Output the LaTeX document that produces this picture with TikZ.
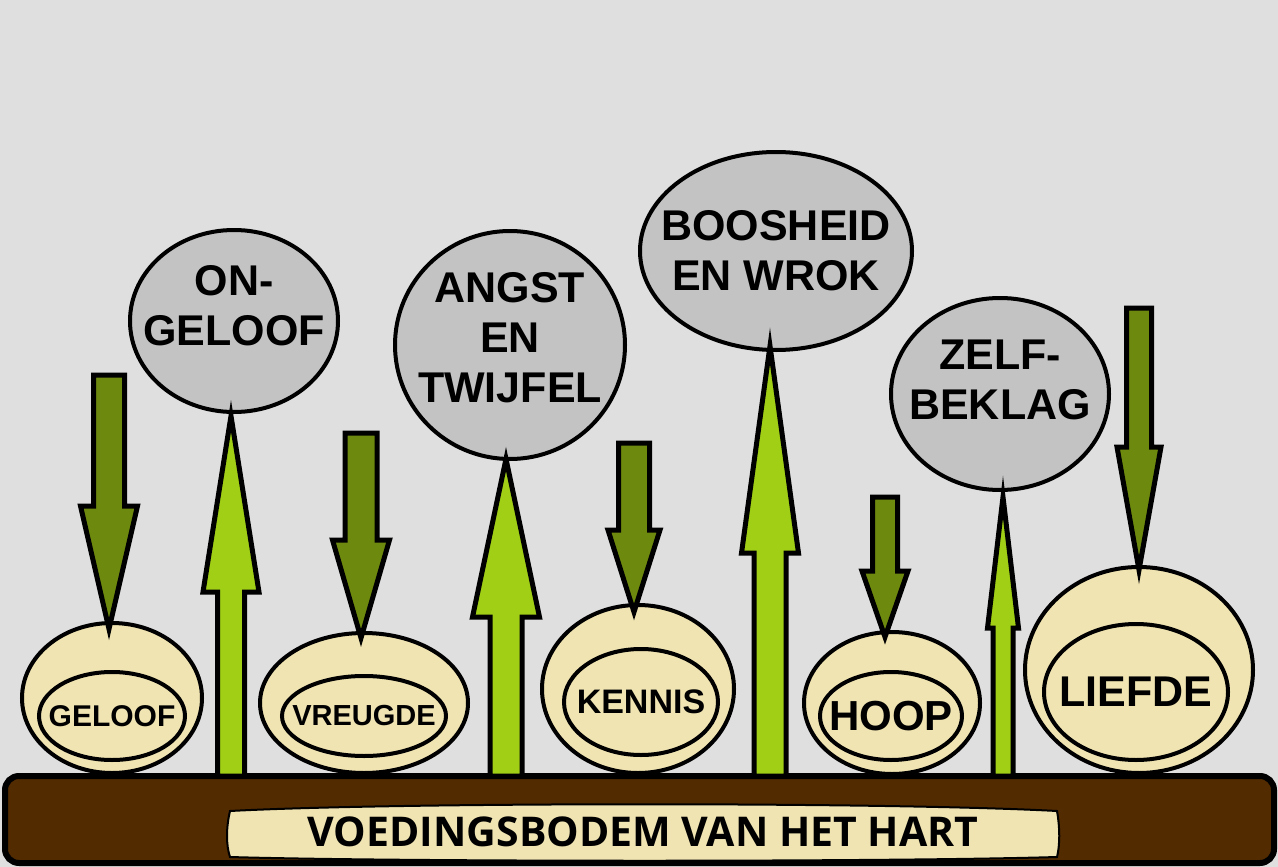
\documentclass[tikz,border=0pt]{standalone}
\usepackage{fontspec}
\setmainfont{Liberation Sans}
\newfontfamily\barfont{Open Sans}
\usetikzlibrary{shapes.geometric,calc}
\definecolor{bgc}{HTML}{DFDFDF}
\definecolor{bubc}{HTML}{C3C3C3}
\definecolor{eggc}{HTML}{F0E4B2}
\definecolor{soilc}{HTML}{522B00}
\definecolor{darkg}{HTML}{6E8A0E}
\definecolor{lightg}{HTML}{A0CF16}
\tikzset{
  egg/.style={ellipse, draw=black, line width=4pt, fill=eggc, inner sep=0pt, outer sep=0pt},
  bubble/.style={ellipse, draw=black, line width=4pt, fill=bubc, inner sep=0pt, outer sep=0pt},
  bubtxt/.style={font=\bfseries\fontsize{43}{50}\selectfont, align=center, inner sep=0pt},
  eggtxt/.style={font=\bfseries, inner sep=0pt},
  downarr/.style={draw=black, line width=5pt, fill=darkg},
  uparr/.style={draw=black, line width=5pt, fill=lightg},
}
% #1 style, #2 tail, #3 tip, #4 half shaft, #5 half head, #6 signed head offset (canvas pt)
\newcommand\blockarr[6]{%
  \draw[#1] let \p1=(#2), \p2=(#3) in
   (\x2-#4pt,\y1) -- (\x2-#4pt,\y2+#6pt) -- (\x2-#5pt,\y2+#6pt) -- (\x2,\y2)
   -- (\x2+#5pt,\y2+#6pt) -- (\x2+#4pt,\y2+#6pt) -- (\x2+#4pt,\y1) -- cycle;}
\begin{document}
\begin{tikzpicture}[x=1pt,y=-1pt]
\fill[bgc] (0,0) rectangle (1278,867);
\useasboundingbox (0,0) rectangle (1278,867);
% eggs
\node[egg, minimum width=180pt, minimum height=150pt] (g1) at (112,698) {};
\node[egg, minimum width=146pt, minimum height=88pt, label={[eggtxt,font=\bfseries\fontsize{30}{30}\selectfont]center:GELOOF}] (g2) at (112,716) {};
\node[egg, minimum width=208pt, minimum height=140pt] (v1) at (364,703) {};
\node[egg, minimum width=164pt, minimum height=80pt, label={[eggtxt,font=\bfseries\fontsize{29}{29}\selectfont]center:VREUGDE}] (v2) at (364,716) {};
\node[egg, minimum width=192pt, minimum height=168pt] (k1) at (638,689) {};
\node[egg, minimum width=154pt, minimum height=106pt, label={[eggtxt,font=\bfseries\fontsize{34}{34}\selectfont]center:KENNIS}] (k2) at (641,702) {};
\node[egg, minimum width=176pt, minimum height=142pt] (h1) at (892,703) {};
\node[egg, minimum width=142pt, minimum height=88pt, label={[eggtxt,font=\bfseries\fontsize{42}{42}\selectfont]center:HOOP}] (h2) at (891,716) {};
\node[egg, minimum width=228pt, minimum height=206pt] (l1) at (1139,670) {};
\node[egg, minimum width=184pt, minimum height=136pt, label={[eggtxt,font=\bfseries\fontsize{43}{43}\selectfont]center:LIEFDE}] (l2) at (1136,692) {};
% bubbles
\node[bubble, minimum width=208pt, minimum height=182pt, label={[bubtxt,yshift=15pt]center:ON-\\GELOOF}] (b1) at (234,321) {};
\node[bubble, minimum width=230pt, minimum height=228pt, label={[bubtxt,yshift=7pt]center:ANGST\\EN\\TWIJFEL}] (b2) at (510,345) {};
\node[bubble, minimum width=272pt, minimum height=198pt, label={[bubtxt]center:BOOSHEID\\EN WROK}] (b3) at (776,251) {};
\node[bubble, minimum width=218pt, minimum height=192pt, label={[bubtxt,yshift=14pt]center:ZELF-\\BEKLAG}] (b4) at (1000,394) {};
% soil bar
\node[draw=black, line width=6pt, fill=soilc, rounded corners=14pt, minimum width=1269pt, minimum height=87pt, inner sep=0pt, outer sep=0pt] (bar) at (639.5,819.5) {};
\draw[line width=2pt, fill=eggc] (230,811) .. controls (400,802) and (890,802) .. (1057,811)
  .. controls (1060,828) and (1060,845) .. (1057,857)
  .. controls (890,862) and (400,862) .. (230,857)
  .. controls (226,845) and (226,828) .. (230,811) -- cycle;
\node[font=\barfont\bfseries\fontsize{41}{41}\selectfont, inner sep=0pt] (soiltxt) at (643,832) {VOEDINGSBODEM VAN HET HART};
% down arrows (tails and tips)
\coordinate (d1s) at (109,375); \coordinate (d1t) at ([shift={(-3,6)}]g1.north);
\coordinate (d2s) at (361,433); \coordinate (d2t) at ([shift={(-3,5)}]v1.north);
\coordinate (d3s) at (634,443); \coordinate (d3t) at ([shift={(-4,7)}]k1.north);
\coordinate (d4s) at (885,497); \coordinate (d4t) at ([shift={(-7,5)}]h1.north);
\coordinate (d5s) at (1139,308); \coordinate (d5t) at ([shift={(0,3)}]l1.north);
\blockarr{downarr}{d1s}{d1t}{15.5}{28.5}{123}
\blockarr{downarr}{d2s}{d2t}{16}{28.5}{98}
\blockarr{downarr}{d3s}{d3t}{15.5}{26}{82}
\blockarr{downarr}{d4s}{d4t}{12.5}{23}{66}
\blockarr{downarr}{d5s}{d5t}{12.5}{22}{123}
% up arrows
\coordinate (u1t) at ([shift={(-3,4)}]b1.south);
\coordinate (u2t) at ([shift={(-4,0)}]b2.south);
\coordinate (u3t) at ([shift={(-6,-4)}]b3.south);
\coordinate (u4t) at ([shift={(3,7)}]b4.south);
\blockarr{uparr}{bar.north -| u1t}{u1t}{13.5}{28}{-176}
\blockarr{uparr}{bar.north -| u2t}{u2t}{16}{33.5}{-158}
\blockarr{uparr}{bar.north -| u3t}{u3t}{16}{28.5}{-207}
\blockarr{uparr}{bar.north -| u4t}{u4t}{10}{15.5}{-131}
\end{tikzpicture}
\end{document}
